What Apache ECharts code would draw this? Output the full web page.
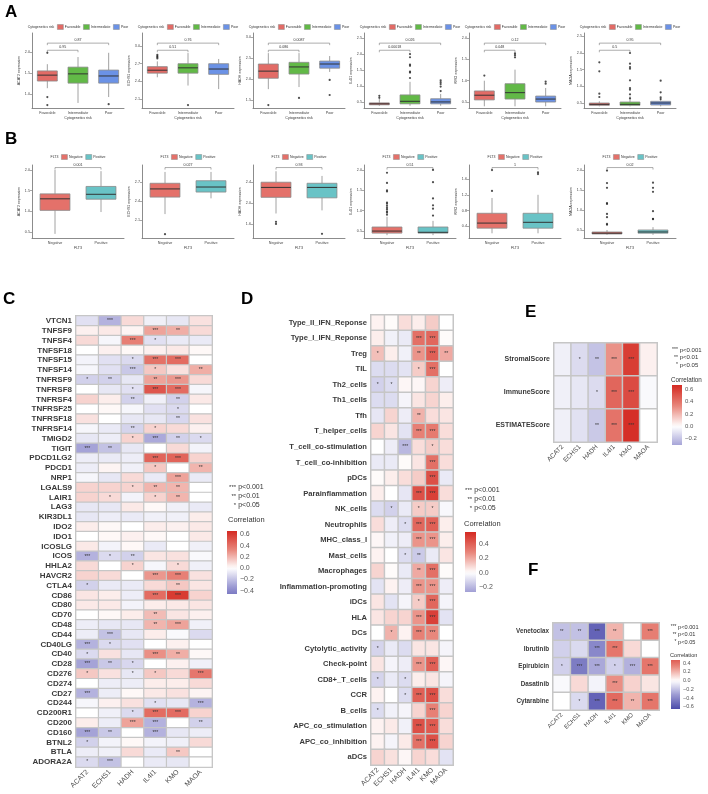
<!DOCTYPE html>
<html>
<head>
<meta charset="UTF-8">
<title>Figure</title>
<script src="https://cdn.jsdelivr.net/npm/echarts@6/dist/echarts.min.js"></script>
<style>html,body{margin:0;background:#fff}#main{width:708px;height:794px}</style>
</head>
<body>
<div id="main"></div>
<script>
const FONT = '"Liberation Sans", Arial, sans-serif';

// ---------- data ----------
const genes = ['ACAT2', 'ECHS1', 'HADH', 'IL4I1', 'KMO', 'MAOA'];
const riskGroups = ['Favorable', 'Intermediate', 'Poor'];
const flt3Groups = ['Negative', 'Positive'];

// boxplot stats per gene: one [min, Q1, median, Q3, max] per group
const riskStats = [
  [[1.14, 1.31, 1.45, 1.55, 1.71], [0.79, 1.26, 1.48, 1.64, 1.88], [0.93, 1.26, 1.43, 1.57, 1.98]],
  [[2.47, 2.54, 2.59, 2.65, 2.74], [2.33, 2.54, 2.63, 2.70, 2.88], [2.27, 2.52, 2.61, 2.70, 2.78]],
  [[1.76, 2.02, 2.19, 2.36, 2.62], [1.81, 2.12, 2.29, 2.40, 2.62], [2.17, 2.26, 2.36, 2.43, 2.55]],
  [[0.38, 0.41, 0.44, 0.47, 0.59], [0.38, 0.44, 0.52, 0.72, 1.13], [0.38, 0.44, 0.50, 0.60, 0.75]],
  [[0.40, 0.55, 0.66, 0.76, 1.00], [0.40, 0.57, 0.72, 0.93, 1.26], [0.40, 0.50, 0.57, 0.64, 0.83]],
  [[0.40, 0.43, 0.46, 0.50, 0.55], [0.40, 0.43, 0.46, 0.53, 0.70], [0.40, 0.44, 0.50, 0.55, 0.62]]
];
const riskOutliers = [
  [[0, 1.98], [0, 0.93], [0, 0.74], [2, 0.76]],
  [[0, 2.79], [0, 2.81], [0, 2.83], [0, 2.85], [1, 2.0]],
  [[0, 1.38], [1, 1.55], [2, 1.98], [2, 1.62]],
  [[0, 0.63], [0, 0.69], [1, 2.0], [1, 1.9], [1, 1.67], [1, 1.63], [1, 1.45], [1, 1.42], [1, 1.25],
   [2, 1.18], [2, 1.12], [2, 1.06], [2, 0.98], [2, 0.84]],
  [[0, 1.12], [1, 1.64], [1, 1.6], [1, 1.55], [2, 0.98], [2, 0.93]],
  [[0, 1.72], [0, 1.45], [0, 0.78], [0, 0.68], [1, 2.0], [1, 1.68], [1, 1.58], [1, 1.53], [1, 1.18],
   [1, 0.95], [1, 0.9], [1, 0.76], [1, 0.64], [2, 1.17], [2, 0.82], [2, 0.67], [2, 0.62]]
];
const riskP = [['0.95', '0.87'], ['0.51', '0.76'], ['0.086', '0.0087'], ['0.00018', '0.026'], ['0.048', '0.12'], ['0.5', '0.95']];
const riskTicks = [[1.0, 1.5, 2.0], [2.1, 2.4, 2.7, 3.0], [1.5, 2.0, 2.5, 3.0], [0.5, 1.0, 1.5, 2.0, 2.5], [0.5, 1.0, 1.5, 2.0], [0.5, 1.0, 1.5, 2.0, 2.5]];

const flt3Stats = [
  [[0.45, 1.02, 1.30, 1.42, 2.00], [0.98, 1.29, 1.41, 1.60, 1.97]],
  [[2.19, 2.46, 2.59, 2.68, 2.86], [2.44, 2.54, 2.62, 2.72, 2.86]],
  [[1.80, 2.11, 2.30, 2.40, 2.61], [1.86, 2.10, 2.30, 2.38, 2.52]],
  [[0.40, 0.45, 0.50, 0.60, 0.85], [0.40, 0.45, 0.47, 0.60, 0.75]],
  [[0.22, 0.35, 0.48, 0.73, 1.12], [0.22, 0.35, 0.50, 0.73, 1.20]],
  [[0.38, 0.40, 0.42, 0.45, 0.50], [0.38, 0.42, 0.45, 0.50, 0.57]]
];
const flt3Outliers = [
  [],
  [[0, 1.87]],
  [[0, 1.64], [0, 1.60], [1, 1.41]],
  [[0, 1.93], [0, 1.68], [0, 1.5], [0, 1.47], [0, 1.2], [0, 1.17], [0, 1.12], [0, 1.07], [0, 1.03], [0, 0.98], [0, 0.95], [0, 0.9],
   [1, 2.0], [1, 1.7], [1, 1.3], [1, 1.13], [1, 1.05], [1, 0.88]],
  [[0, 1.3], [0, 1.83], [1, 1.77], [1, 1.73]],
  [[0, 1.98], [0, 1.67], [0, 1.55], [0, 1.17], [0, 1.15], [0, 0.9], [0, 0.82], [0, 0.65], [0, 0.63],
   [1, 1.68], [1, 1.55], [1, 1.45], [1, 0.97], [1, 0.78], [1, 0.77]]
];
const flt3P = [['0.001'], ['0.027'], ['0.93'], ['0.51'], ['1'], ['0.02']];
const flt3Ticks = [[0.5, 1.0, 1.5, 2.0], [2.1, 2.4, 2.7], [1.6, 2.0, 2.4], [0.5, 1.0, 1.5, 2.0], [0.4, 0.8, 1.2, 1.6], [0.5, 1.0, 1.5, 2.0]];

// panel C: immune checkpoint genes
const cRows = ['VTCN1', 'TNFSF9', 'TNFSF4', 'TNFSF18', 'TNFSF15', 'TNFSF14', 'TNFRSF9', 'TNFRSF8', 'TNFRSF4', 'TNFRSF25',
  'TNFRSF18', 'TNFRSF14', 'TMIGD2', 'TIGIT', 'PDCD1LG2', 'PDCD1', 'NRP1', 'LGALS9', 'LAIR1', 'LAG3', 'KIR3DL1', 'IDO2',
  'IDO1', 'ICOSLG', 'ICOS', 'HHLA2', 'HAVCR2', 'CTLA4', 'CD86', 'CD80', 'CD70', 'CD48', 'CD44', 'CD40LG', 'CD40', 'CD28',
  'CD276', 'CD274', 'CD27', 'CD244', 'CD200R1', 'CD200', 'CD160', 'BTNL2', 'BTLA', 'ADORA2A'];
const cVals = [
  [-0.10, -0.25, 0.10, -0.05, -0.08, 0.08], [0.04, 0.06, 0.03, 0.25, 0.22, 0.10], [0.10, -0.03, 0.35, -0.10, -0.07, -0.07],
  [0.00, 0.04, 0.02, 0.04, 0.06, 0.02], [-0.04, -0.10, -0.12, 0.40, 0.42, 0.00], [-0.03, -0.10, -0.18, 0.15, 0.08, 0.22],
  [-0.15, -0.15, -0.08, 0.25, 0.28, 0.10], [0.00, -0.08, -0.10, 0.50, 0.42, -0.03], [0.12, 0.05, -0.15, -0.05, -0.15, 0.06],
  [0.00, 0.02, -0.03, -0.10, -0.12, 0.00], [0.08, 0.00, -0.08, -0.08, -0.13, 0.08], [-0.03, -0.07, -0.14, 0.12, 0.10, 0.04],
  [-0.08, -0.06, 0.12, -0.28, -0.15, -0.12], [-0.30, -0.20, -0.08, 0.00, 0.10, -0.04], [-0.06, -0.07, -0.06, 0.45, 0.45, 0.12],
  [-0.06, 0.03, -0.05, 0.15, 0.00, 0.20], [-0.03, -0.08, 0.10, -0.07, 0.25, -0.07], [0.12, 0.12, 0.12, 0.20, 0.20, 0.00],
  [0.12, 0.10, -0.04, 0.12, 0.20, 0.00], [-0.08, -0.08, 0.06, 0.02, -0.05, -0.07], [-0.08, -0.06, -0.07, -0.05, -0.05, 0.05],
  [0.05, 0.02, 0.00, 0.05, 0.04, 0.06], [0.00, 0.02, 0.04, 0.02, 0.00, 0.06], [0.06, -0.04, 0.02, -0.07, 0.00, -0.05],
  [-0.25, -0.12, -0.15, 0.07, 0.08, -0.02], [0.10, 0.00, 0.12, -0.03, 0.10, -0.05], [0.12, 0.10, 0.00, 0.28, 0.35, 0.08],
  [-0.15, -0.07, -0.07, 0.10, 0.15, 0.07], [0.07, 0.05, -0.06, 0.42, 0.60, 0.12], [0.06, 0.06, -0.04, 0.05, 0.06, 0.07],
  [0.00, 0.02, 0.05, 0.18, 0.07, 0.04], [-0.06, -0.08, -0.08, 0.20, 0.25, -0.05], [-0.06, -0.20, -0.08, 0.05, -0.02, -0.12],
  [-0.25, -0.12, -0.10, 0.00, 0.04, 0.00], [-0.12, 0.08, -0.08, 0.30, 0.22, 0.02], [-0.30, -0.18, -0.13, 0.00, 0.04, -0.05],
  [0.15, 0.08, -0.08, 0.15, 0.10, 0.38], [0.00, -0.06, -0.06, 0.05, 0.05, 0.10], [-0.25, -0.06, 0.02, 0.06, 0.08, 0.03],
  [-0.03, 0.04, 0.08, -0.10, -0.08, -0.25], [0.00, -0.05, -0.12, 0.42, 0.42, 0.12], [0.05, -0.06, 0.25, -0.25, 0.00, -0.15],
  [-0.30, -0.18, 0.00, -0.25, -0.08, -0.06], [-0.15, -0.04, 0.02, -0.04, -0.05, 0.10], [-0.06, -0.05, 0.10, -0.07, 0.15, 0.00],
  [-0.12, -0.20, 0.00, -0.07, -0.08, 0.00]
];
// number of significance stars per cell
const cStars = [
  [0,3,0,0,0,0],[0,0,0,3,2,0],[0,0,3,1,0,0],[0,0,0,0,0,0],[0,0,1,3,3,0],[0,0,3,1,0,2],[1,2,0,2,3,0],[0,0,1,3,3,0],
  [0,0,2,0,2,0],[0,0,0,0,1,0],[0,0,0,0,2,0],[0,0,2,1,0,0],[0,0,1,3,2,1],[3,2,0,0,0,0],[0,0,0,3,3,0],[0,0,0,1,0,2],
  [0,0,0,0,3,0],[0,0,1,2,2,0],[0,1,0,1,2,0],[0,0,0,0,0,0],[0,0,0,0,0,0],[0,0,0,0,0,0],[0,0,0,0,0,0],[0,0,0,0,0,0],
  [3,1,2,0,0,0],[0,0,1,0,1,0],[0,0,0,3,3,0],[1,0,0,0,2,0],[0,0,0,3,3,0],[0,0,0,0,0,0],[0,0,0,2,0,0],[0,0,0,2,3,0],
  [0,3,0,0,0,0],[3,1,0,0,0,0],[1,0,0,3,2,0],[3,2,1,0,0,0],[1,0,1,1,0,3],[0,0,0,0,0,0],[3,0,0,0,0,0],[0,0,0,1,0,3],
  [0,0,1,3,3,0],[0,0,3,3,0,2],[3,2,0,3,0,0],[1,0,0,0,0,0],[0,0,0,0,2,0],[1,3,0,0,0,0]
];

// panel D: immune function signatures
const dRows = ['Type_II_IFN_Reponse', 'Type_I_IFN_Reponse', 'Treg', 'TIL', 'Th2_cells', 'Th1_cells', 'Tfh', 'T_helper_cells',
  'T_cell_co-stimulation', 'T_cell_co-inhibition', 'pDCs', 'Parainflammation', 'NK_cells', 'Neutrophils', 'MHC_class_I',
  'Mast_cells', 'Macrophages', 'Inflammation-promoting', 'iDCs', 'HLA', 'DCs', 'Cytolytic_activity', 'Check-point',
  'CD8+_T_cells', 'CCR', 'B_cells', 'APC_co_stimulation', 'APC_co_inhibition', 'aDCs'];
const dVals = [
  [0.03, 0.01, 0.08, 0.04, 0.12, 0.00], [0.04, -0.04, -0.06, 0.35, 0.38, 0.01], [0.15, 0.04, -0.04, 0.25, 0.40, 0.20],
  [-0.10, -0.10, -0.08, 0.12, 0.35, 0.00], [-0.13, -0.10, 0.02, 0.02, 0.10, -0.05], [-0.10, -0.10, -0.03, 0.06, 0.10, 0.04],
  [-0.07, 0.10, -0.05, 0.18, 0.08, 0.06], [0.10, 0.06, -0.08, 0.30, 0.32, 0.08], [0.00, -0.05, -0.20, 0.08, 0.12, 0.08],
  [-0.06, -0.06, 0.01, 0.06, 0.35, 0.08], [0.01, 0.04, 0.08, 0.12, 0.45, -0.06], [0.04, 0.00, -0.07, 0.45, 0.50, 0.08],
  [-0.10, -0.13, -0.06, 0.12, 0.12, -0.02], [0.08, -0.05, -0.10, 0.38, 0.40, 0.04], [0.02, -0.04, -0.05, 0.25, 0.25, 0.04],
  [0.03, 0.00, -0.10, -0.15, -0.06, 0.06], [0.10, 0.01, -0.06, 0.20, 0.35, 0.01], [-0.08, 0.03, -0.05, 0.25, 0.25, -0.05],
  [0.06, -0.08, -0.03, 0.12, 0.38, -0.03], [0.06, 0.10, 0.10, 0.25, 0.50, -0.08], [0.00, 0.18, 0.03, 0.30, 0.28, 0.00],
  [-0.12, -0.06, -0.10, 0.06, 0.06, -0.03], [0.06, -0.03, -0.05, 0.25, 0.40, 0.02], [-0.12, -0.06, -0.10, 0.04, 0.06, -0.03],
  [0.03, 0.00, -0.10, 0.40, 0.45, 0.08], [-0.10, -0.04, -0.03, 0.10, 0.30, 0.10], [0.03, 0.05, -0.04, 0.45, 0.42, 0.08],
  [0.03, -0.03, 0.05, 0.35, 0.45, 0.10], [0.10, 0.07, 0.02, 0.10, 0.08, -0.08]
];
const dStars = [
  [0,0,0,0,0,0],[0,0,0,3,3,0],[1,0,0,2,3,2],[0,0,0,1,3,0],[1,1,0,0,0,0],[0,0,0,0,0,0],[0,0,0,2,0,0],[0,0,0,3,3,0],
  [0,0,3,0,1,0],[0,0,0,0,3,0],[0,0,0,0,3,0],[0,0,0,3,3,0],[0,1,0,1,1,0],[0,0,1,3,3,0],[0,0,0,3,3,0],[0,0,1,2,0,0],
  [0,0,0,2,3,0],[0,0,0,3,3,0],[0,0,0,1,3,0],[0,0,0,3,3,0],[0,1,0,3,3,0],[1,0,0,0,0,0],[0,0,0,3,3,0],[1,0,1,0,0,0],
  [0,0,1,3,3,0],[1,0,0,0,3,0],[0,0,0,3,3,0],[0,0,0,3,3,0],[0,0,0,0,0,0]
];

// panel E: ESTIMATE scores
const eRows = ['StromalScore', 'ImmuneScore', 'ESTIMATEScore'];
const eVals = [[-0.05, -0.12, -0.20, 0.30, 0.60, 0.04], [-0.05, -0.08, -0.12, 0.45, 0.55, -0.02], [-0.05, -0.10, -0.18, 0.40, 0.65, 0.00]];
const eStars = [[0,1,2,3,3,0], [0,0,1,3,3,0], [0,0,2,3,3,0]];

// panel F: drug sensitivity
const fRows = ['Venetoclax', 'Ibrutinib', 'Epirubicin', 'Dasatinib', 'Cytarabine'];
const fVals = [
  [-0.20, -0.20, -0.55, 0.20, 0.00, 0.35], [-0.15, -0.12, -0.40, 0.38, 0.10, 0.00], [-0.15, -0.45, -0.28, -0.15, -0.25, 0.38],
  [-0.02, 0.10, -0.04, 0.30, 0.12, 0.07], [0.00, -0.12, -0.55, 0.42, 0.20, 0.38]
];
const fStars = [[2,2,3,2,0,3], [0,0,3,3,0,0], [1,3,3,1,3,3], [0,0,0,3,0,0], [0,1,3,3,2,3]];

// ---------- layout ----------
const SCALE = ['#4B4BAA', '#9C9AD3', '#FFFFFF', '#E8857A', '#D42A22'];
const grid = [], xAxis = [], yAxis = [], series = [], visualMap = [], graphic = [];
const measureCtx = document.createElement('canvas').getContext('2d');
function textW(t, size) { measureCtx.font = size + 'px ' + FONT; return measureCtx.measureText(t).width; }
function text(x, y, str, size, opt) {
  graphic.push({ type: 'text', x: x, y: y, silent: true,
    style: Object.assign({ text: str, fontSize: size, fontFamily: FONT, fill: '#333', align: 'left', verticalAlign: 'middle' }, opt || {}) });
}
const fmt = v => v.toFixed(1).replace('-', '\u2212');

const boxLefts = [32, 142, 253, 364, 469, 584];
const BOX_W = 92;

function renderBox(colors) {
  return function (params, api) {
    const k = api.value(0);
    const p = [1, 2, 3, 4, 5].map(d => api.coord([k, api.value(d)]));
    const cx = p[0][0];
    const bw = api.size([1, 0])[0] * 0.65;
    const gray = '#8a8a8a';
    return { type: 'group', children: [
      { type: 'line', shape: { x1: cx, y1: p[4][1], x2: cx, y2: p[3][1] }, style: { stroke: gray, lineWidth: 0.8 } },
      { type: 'line', shape: { x1: cx, y1: p[1][1], x2: cx, y2: p[0][1] }, style: { stroke: gray, lineWidth: 0.8 } },
      { type: 'rect', shape: { x: cx - bw / 2, y: p[3][1], width: bw, height: p[1][1] - p[3][1] }, style: { fill: colors[k], stroke: gray, lineWidth: 0.8 } },
      { type: 'line', shape: { x1: cx - bw / 2, y1: p[2][1], x2: cx + bw / 2, y2: p[2][1] }, style: { stroke: '#333', lineWidth: 1 } }
    ] };
  };
}
function renderBracket(labels) {
  return function (params, api) {
    const a = api.coord([api.value(0), api.value(2)]);
    const b = api.coord([api.value(1), api.value(2)]);
    return { type: 'group', children: [
      { type: 'polyline', shape: { points: [[a[0], a[1] + 2], [a[0], a[1]], [b[0], b[1]], [b[0], b[1] + 2]] }, style: { stroke: '#777', lineWidth: 0.6, fill: 'none' } },
      { type: 'text', x: (a[0] + b[0]) / 2, y: a[1] - 0.8, style: { text: labels[params.dataIndex], fontSize: 3.6, fontFamily: FONT, fill: '#333', align: 'center', verticalAlign: 'bottom' } }
    ] };
  };
}
function boxLegend(cx, y, title, names, colors) {
  const fs = 3.5, sq = 6, sqH = 5, pad = 1.5, gap = 3;
  const widths = names.map(n => textW(n, fs));
  let total = textW(title, fs) + gap;
  names.forEach((n, k) => { total += sq + pad + widths[k] + (k < names.length - 1 ? gap : 0); });
  let x = cx - total / 2;
  text(x, y, title, fs);
  x += textW(title, fs) + gap;
  names.forEach((n, k) => {
    graphic.push({ type: 'rect', silent: true, shape: { x: x, y: y - sqH / 2, width: sq, height: sqH }, style: { fill: colors[k], stroke: '#888', lineWidth: 0.5 } });
    x += sq + pad;
    text(x, y, n, fs);
    x += widths[k] + gap;
  });
}
function addBoxPlot(c) {
  const gi = grid.length;
  const min = c.range[0], max = c.range[1];
  grid.push({ left: c.left, top: c.top, width: BOX_W, height: c.height });
  xAxis.push({ gridIndex: gi, type: 'category', data: c.cats, name: c.xName, nameLocation: 'middle', nameGap: 8,
    nameTextStyle: { fontSize: 3.6, color: '#333' },
    axisLine: { lineStyle: { color: '#6f6f6f', width: 0.8 } },
    axisTick: { alignWithLabel: true, length: 2, lineStyle: { color: '#6f6f6f', width: 0.6 } },
    axisLabel: { fontSize: 3.7, color: '#444', margin: 2.5, interval: 0 } });
  yAxis.push({ gridIndex: gi, type: 'value', min: min, max: max, name: c.yName, nameLocation: 'middle', nameGap: 9,
    nameTextStyle: { fontSize: 3.6, color: '#333' },
    axisLine: { show: true, lineStyle: { color: '#6f6f6f', width: 0.8 } },
    axisTick: { show: true, length: 2, customValues: c.ticks, lineStyle: { color: '#6f6f6f', width: 0.6 } },
    axisLabel: { customValues: c.ticks, formatter: fmt, fontSize: 3.7, color: '#444', margin: 2 },
    splitLine: { show: false } });
  series.push({ type: 'custom', xAxisIndex: gi, yAxisIndex: gi, silent: true, encode: { x: 0, y: [1, 2, 3, 4, 5] },
    data: c.stats.map((s, k) => [k].concat(s)), renderItem: renderBox(c.colors) });
  series.push({ type: 'scatter', xAxisIndex: gi, yAxisIndex: gi, silent: true, symbolSize: 2.2,
    itemStyle: { color: '#222' }, data: c.outliers });
  series.push({ type: 'custom', xAxisIndex: gi, yAxisIndex: gi, silent: true, encode: { x: [0, 1], y: 2 },
    data: c.pairs.map((pr, j) => [pr[0], pr[1], min + c.fracs[j] * (max - min)]), renderItem: renderBracket(c.pvals) });
  boxLegend(c.left + BOX_W / 2, c.legendY, c.legendTitle, c.cats, c.colors);
}

const riskRange = [[0.67, 2.45], [1.95, 3.22], [1.31, 3.1], [0.31, 2.66], [0.36, 2.12], [0.35, 2.6]];
const flt3Range = [[0.35, 2.12], [1.81, 2.97], [1.33, 2.73], [0.33, 2.12], [0.1, 1.96], [0.3, 2.12]];
const riskColors = ['#E26B66', '#62B947', '#6B92E6'];
const flt3Colors = ['#E4716A', '#69C3C6'];

genes.forEach((g, i) => {
  addBoxPlot({ left: boxLefts[i], top: 33, height: 75, cats: riskGroups, colors: riskColors, stats: riskStats[i],
    outliers: riskOutliers[i], range: riskRange[i], ticks: riskTicks[i], pvals: riskP[i], pairs: [[0, 1], [0, 2]],
    fracs: [0.77, 0.865], xName: 'Cytogenetics risk', yName: g + ' expression', legendTitle: 'Cytogenetics risk', legendY: 27 });
  addBoxPlot({ left: boxLefts[i], top: 165, height: 73, cats: flt3Groups, colors: flt3Colors, stats: flt3Stats[i],
    outliers: flt3Outliers[i], range: flt3Range[i], ticks: flt3Ticks[i], pvals: flt3P[i], pairs: [[0, 1]],
    fracs: [0.965], xName: 'FLT3', yName: g + ' expression', legendTitle: 'FLT3', legendY: 157 });
});

function addHeatmap(c) {
  const gi = grid.length;
  grid.push({ left: c.left, top: c.top, width: c.width, height: c.height, show: true, borderColor: '#BDBDBD', borderWidth: 2, backgroundColor: '#fff' });
  xAxis.push({ gridIndex: gi, type: 'category', data: genes, axisLine: { show: false }, axisTick: { show: false },
    axisLabel: { rotate: 45, fontSize: c.xFont, color: '#4a4a4a', margin: 4, interval: 0 }, splitLine: { show: false } });
  yAxis.push({ gridIndex: gi, type: 'category', data: c.rows, inverse: true, axisLine: { show: false }, axisTick: { show: false },
    axisLabel: { fontSize: c.yFont, fontWeight: 'bold', color: '#3a3a3a', margin: 4, interval: 0 }, splitLine: { show: false } });
  const data = [];
  c.vals.forEach((row, r) => row.forEach((v, k) => data.push([k, r, v])));
  const si = series.length;
  series.push({ type: 'heatmap', xAxisIndex: gi, yAxisIndex: gi, data: data, silent: true,
    itemStyle: { borderColor: '#C6C6C6', borderWidth: c.border },
    label: { show: true, fontSize: c.starFont, color: '#333', formatter: p => '*'.repeat(c.stars[p.value[1]][p.value[0]]) },
    emphasis: { disabled: true } });
  visualMap.push({ type: 'continuous', show: false, seriesIndex: si, dimension: 2, min: -c.L, max: c.L, inRange: { color: SCALE } });
}
function addColorbar(c) {
  const gi = grid.length;
  grid.push({ left: c.left, top: c.top, width: c.width, height: c.height });
  xAxis.push({ gridIndex: gi, type: 'value', min: 0, max: 1, show: false });
  yAxis.push({ gridIndex: gi, type: 'value', min: c.lo, max: c.hi, position: 'right', axisLine: { show: false }, splitLine: { show: false },
    axisTick: { show: true, inside: true, length: 2, customValues: c.ticks, lineStyle: { color: '#fff', width: 0.8 } },
    axisLabel: { customValues: c.ticks, fontSize: c.font, color: '#555', margin: 3, formatter: fmt } });
  series.push({ type: 'custom', xAxisIndex: gi, yAxisIndex: gi, silent: true, encode: { x: 0, y: [1, 2] },
    data: [[0, c.lo, c.hi]],
    renderItem: function (params, api) {
      const top = api.coord([0, api.value(2)]), bot = api.coord([0, api.value(1)]);
      const stops = [];
      for (let i = 0; i <= 20; i++) {
        const v = c.hi - (c.hi - c.lo) * i / 20;
        const t = Math.min(1, Math.max(0, (v + c.L) / (2 * c.L)));
        stops.push({ offset: i / 20, color: echarts.color.lerp(t, SCALE) || '#ffffff' });
      }
      return { type: 'rect', shape: { x: params.coordSys.x, y: top[1], width: params.coordSys.width, height: bot[1] - top[1] },
        style: { fill: new echarts.graphic.LinearGradient(0, 0, 0, 1, stops) } };
    } });
}
function sigLegend(x0, y0, step, fs, sfs, corrY, cfs) {
  [['***', 'p<0.001'], ['**', 'p<0.01'], ['*', 'p<0.05']].forEach((t, k) => {
    text(x0 + fs * 1.15, y0 + k * step, t[0], sfs, { align: 'right' });
    text(x0 + fs * 1.45, y0 + k * step, t[1], fs);
  });
  text(x0, corrY, 'Correlation', cfs);
}

addHeatmap({ rows: cRows, vals: cVals, stars: cStars, left: 76, top: 316, width: 136, height: 451, L: 0.66, xFont: 7, yFont: 8, starFont: 5, border: 1.2 });
addColorbar({ left: 227, top: 531, width: 10, height: 63, lo: -0.46, hi: 0.66, L: 0.66, ticks: [-0.4, -0.2, 0, 0.2, 0.4, 0.6], font: 7 });
sigLegend(228, 487, 9, 7, 6, 520, 7.5);

addHeatmap({ rows: dRows, vals: dVals, stars: dStars, left: 371, top: 315, width: 82, height: 450, L: 0.57, xFont: 7, yFont: 7.6, starFont: 5, border: 1.5 });
addColorbar({ left: 465, top: 532, width: 11, height: 60, lo: -0.27, hi: 0.57, L: 0.57, ticks: [-0.2, 0, 0.2, 0.4], font: 7 });
sigLegend(464, 490, 9, 7, 6, 524, 7.5);

addHeatmap({ rows: eRows, vals: eVals, stars: eStars, left: 554, top: 343, width: 103, height: 99, L: 0.67, xFont: 6.5, yFont: 7, starFont: 5, border: 1.5 });
addColorbar({ left: 672, top: 385, width: 10, height: 60, lo: -0.3, hi: 0.67, L: 0.67, ticks: [-0.2, 0, 0.2, 0.4, 0.6], font: 6 });
sigLegend(671, 350, 7.5, 6, 5, 380, 6.3);

addHeatmap({ rows: fRows, vals: fVals, stars: fStars, left: 553, top: 623, width: 106, height: 87, L: 0.65, xFont: 6, yFont: 6.3, starFont: 4.5, border: 1.5 });
addColorbar({ left: 671, top: 660, width: 9, height: 49, lo: -0.65, hi: 0.47, L: 0.65, ticks: [-0.6, -0.4, -0.2, 0, 0.2, 0.4], font: 5.5 });
sigLegend(670, 627, 7.5, 5.6, 4.8, 655, 5.6);

// panel letters
[['A', 5, 12], ['B', 5, 139], ['C', 3, 299], ['D', 241, 299], ['E', 525, 312], ['F', 528, 570]].forEach(l => {
  text(l[1], l[2], l[0], 17, { fontWeight: 'bold', fill: '#000' });
});

const chart = echarts.init(document.getElementById('main'));
chart.setOption({
  animation: false,
  textStyle: { fontFamily: FONT },
  grid: grid, xAxis: xAxis, yAxis: yAxis, visualMap: visualMap, series: series,
  graphic: { elements: graphic }
});
</script>
</body>
</html>
